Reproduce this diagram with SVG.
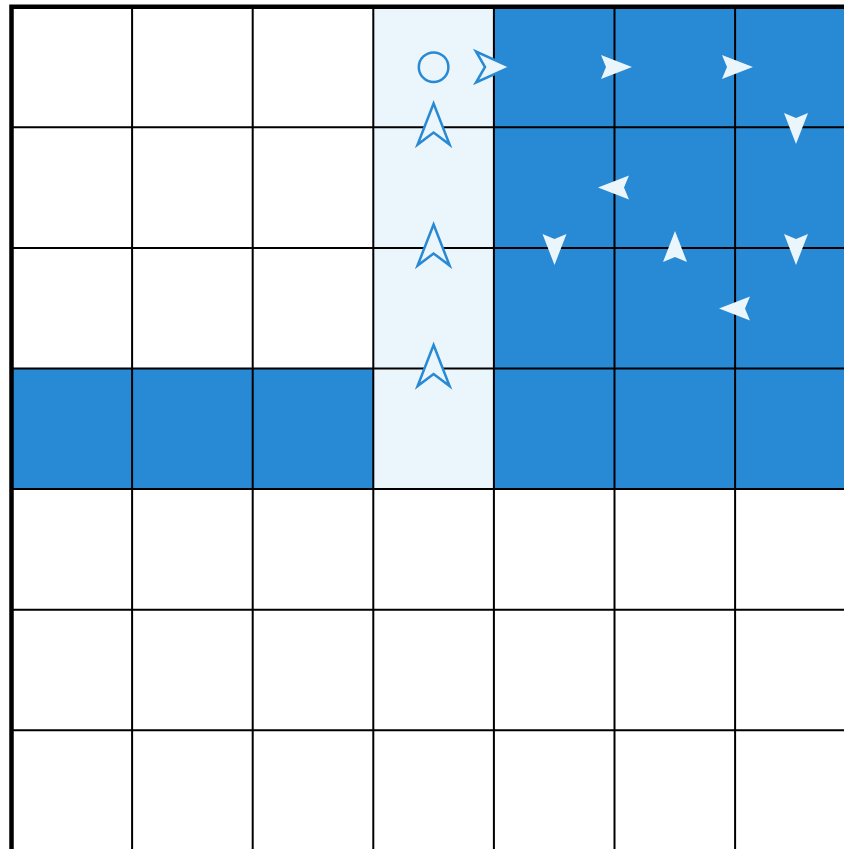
<svg xmlns="http://www.w3.org/2000/svg" width="844" height="849" viewBox="0 0 844 849">
<style>
.dark{fill:#2889D4}
.light{fill:#EAF5FC}
.grid{stroke:#000;stroke-width:2;fill:none}
.border{stroke:#000;stroke-width:4.5;fill:none}
.fa{fill:#EAF5FC}
.oa{fill:#EAF5FC;stroke:#2889D4;stroke-width:2.5;stroke-linejoin:miter}
</style>
<defs>
<polygon id="fr" points="16,0 -15,-12 -10,0 -15,12"/>
<polygon id="ou" points="0,-21 16,20 0,8 -16,20"/>
<polygon id="or" points="17,0 -17.5,-15.5 -8.5,0 -17.5,15.5"/>
</defs>
<rect width="844" height="849" fill="#fff"/>
<g id="cells">
<rect class="light" x="373.3" y="6.7" width="120.6" height="482.4"/>
<rect class="dark" x="493.9" y="6.7" width="361.8" height="482.4"/>
<rect class="dark" x="11.5" y="368.5" width="361.8" height="120.6"/>
</g>
<g id="gridlines">
<path class="grid" d="M132.1 6.7V851M252.7 6.7V851M373.3 6.7V851M493.9 6.7V851M614.5 6.7V851M735.1 6.7V851M11.5 127.3H855M11.5 247.9H855M11.5 368.5H855M11.5 489.1H855M11.5 609.7H855M11.5 730.3H855"/>
<path class="border" d="M11.5 851V6.7H855"/>
</g>
<g id="start">
<circle cx="433.6" cy="67.2" r="14.8" fill="none" stroke="#2889D4" stroke-width="2.5"/>
</g>
<g id="path-outlined">
<use href="#or" class="oa" transform="translate(493.5,67)"/>
<use href="#ou" class="oa" transform="translate(433.6,124.5)"/>
<use href="#ou" class="oa" transform="translate(433.6,245.5)"/>
<use href="#ou" class="oa" transform="translate(433.6,366)"/>
</g>
<g id="path-filled">
<use href="#fr" class="fa" transform="translate(616,67)"/>
<use href="#fr" class="fa" transform="translate(737,67)"/>
<use href="#fr" class="fa" transform="translate(796,128) rotate(90)"/>
<use href="#fr" class="fa" transform="translate(614,187.5) rotate(180)"/>
<use href="#fr" class="fa" transform="translate(554.5,249) rotate(90)"/>
<use href="#fr" class="fa" transform="translate(675,247) rotate(-90)"/>
<use href="#fr" class="fa" transform="translate(796,249) rotate(90)"/>
<use href="#fr" class="fa" transform="translate(735,308.5) rotate(180)"/>
</g>
</svg>
